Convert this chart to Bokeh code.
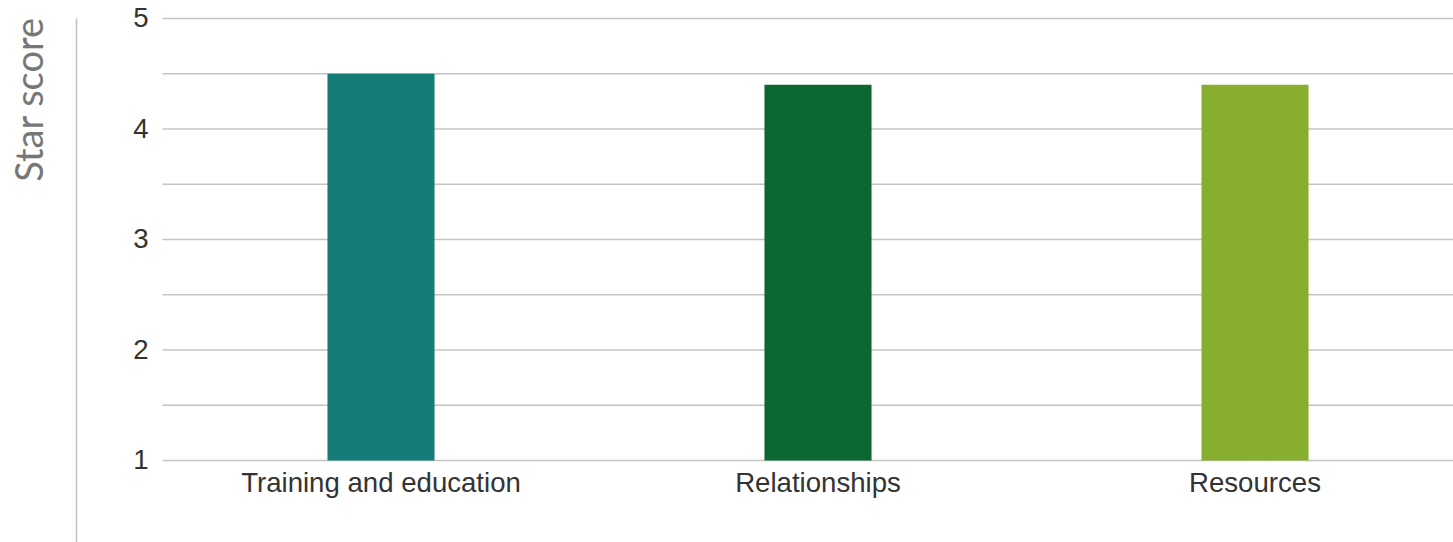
from math import pi
from bokeh.plotting import figure
from bokeh.models import Range1d, ColumnDataSource
from bokeh.core.properties import value
from bokeh.embed import file_html
from bokeh.resources import INLINE

categories = ["Training and education", "Relationships", "Resources"]
scores = [4.5, 4.4, 4.4]
colors = ["#147D78", "#0C6832", "#88AE30"]
y_ticks = [1, 2, 3, 4, 5]
grid_ticks = [1, 1.5, 2, 2.5, 3, 3.5, 4, 4.5, 5]
y_label = "Star score"

# layout (pixels)
W, H = 1453, 542
PLOT_LEFT, PLOT_TOP, PLOT_BOTTOM = 162, 18, 460
CAT_PX = 437                      # pixels per category slot
UNIT_PX = (PLOT_BOTTOM - PLOT_TOP) / (y_ticks[-1] - y_ticks[0])
RULE_PX = 76                      # vertical rule at far left

x0 = -PLOT_LEFT / CAT_PX
x1 = (W - PLOT_LEFT) / CAT_PX
y1 = y_ticks[-1] + PLOT_TOP / UNIT_PX
y0 = y_ticks[0] - (H - PLOT_BOTTOM) / UNIT_PX

xs = [i + 0.5 for i in range(len(categories))]
src = ColumnDataSource(dict(x=xs, top=scores, color=colors, label=categories))

p = figure(width=W, height=H, output_backend="svg", toolbar_location=None,
           x_range=Range1d(x0, x1), y_range=Range1d(y0, y1),
           x_axis_location=None, y_axis_location=None,
           min_border=0)
p.outline_line_color = None
p.grid.visible = False

# horizontal gridlines starting at the value axis
p.segment(x0=0, x1=x1, y0=grid_ticks, y1=grid_ticks,
          line_color="#c4c4c4", line_width=1.5)

# bars
p.vbar(x="x", top="top", bottom=y_ticks[0], width=0.245,
       color="color", line_color=None, source=src)

# value tick labels
p.text(x=0, y=y_ticks, text=[str(t) for t in y_ticks],
       x_offset=-14, y_offset=-1, text_align="right", text_baseline="alphabetic",
       text_font=value("Liberation Sans"), text_font_size="27.6px", text_color="#333333")

# category labels
p.text(x="x", y=y_ticks[0], text="label", source=src,
       y_offset=22, text_align="center", text_baseline="alphabetic",
       text_font=value("Liberation Sans"), text_font_size="27.6px", text_color="#333333")

# axis title and vertical rule
p.text(x=x0, y=y_ticks[-1], text=[y_label], angle=pi / 2,
       x_offset=27, y_offset=81, text_align="center", text_baseline="alphabetic",
       text_font=value("Lato"), text_font_size="38px", text_color="#777777")
p.segment(x0=x0 + RULE_PX / CAT_PX, x1=x0 + RULE_PX / CAT_PX, y0=y_ticks[-1], y1=y0,
          line_color="#c0c0c0", line_width=1.5)

open("out.html", "w").write(file_html(p, INLINE))
